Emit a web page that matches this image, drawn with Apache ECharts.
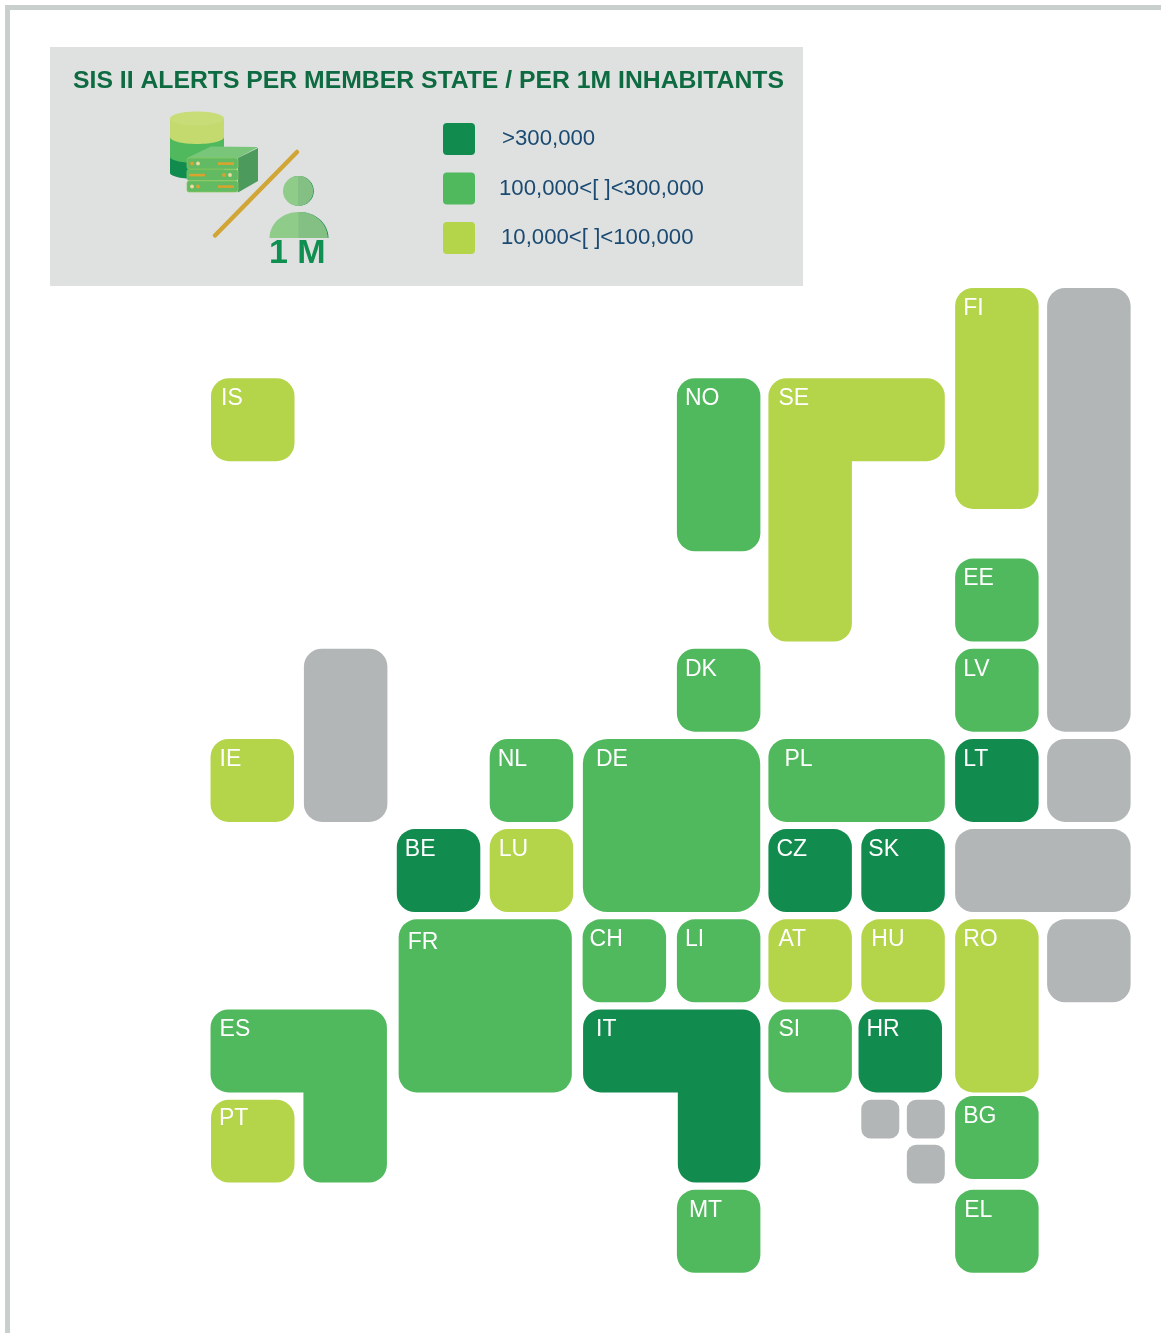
<!DOCTYPE html>
<html>
<head>
<meta charset="utf-8">
<style>html,body{margin:0;padding:0;background:#fff}#main{width:1161px;height:1333px}</style>
<script src="https://cdn.jsdelivr.net/npm/echarts@6/dist/echarts.min.js"></script>
</head>
<body>
<div id="main"></div>
<script>
// tile map: col / row are cells of the map grid, level 0 = no data
const tileNames = ['FI', '', 'IS', 'NO', 'SE', 'EE', 'DK', 'LV', '', 'IE', 'NL', 'DE', 'PL', 'LT', '',
  'BE', 'LU', 'CZ', 'SK', '', 'FR', 'CH', 'LI', 'AT', 'HU', 'RO', '', 'ES', 'IT', 'SI', 'HR',
  'PT', '', '', '', 'BG', 'MT', 'EL'];
const tileLevels = [1, 0, 1, 2, 1, 2, 2, 2, 0, 1, 2, 2, 2, 3, 0,
  3, 1, 3, 3, 0, 2, 2, 2, 1, 1, 1, 0, 2, 3, 2, 3,
  1, 0, 0, 0, 2, 2, 2];
const tileCols = [8.01, 9, 0, 5.015, 6, 8.01, 5.015, 8.01, 1, -0.005, 3, 4.003, 6, 8.01, 9,
  2, 3, 6, 7, 8.01, 2.02, 4, 5.015, 6, 7, 8.01, 9, -0.005, 4.005, 6, 6.97,
  0, 7, 7.49, 7.49, 8.01, 5.015, 8.01];
const tileRows = [0, 0, 1, 1, 1, 3, 4, 4, 4, 5, 5, 5, 5, 5, 5,
  6, 6, 6, 6, 6, 7, 7, 7, 7, 7, 7, 7, 8, 8, 8, 8,
  9, 9, 9, 9.5, 8.96, 10, 10];
const tileColSpans = [1, 1, 1, 1, 2, 1, 1, 1, 1, 1, 1, 2.01, 2, 1, 1,
  1, 1, 1, 1, 1.99, 1.965, 1, 1, 1, 1, 1, 1, 2, 2.01, 1, 1,
  1, 0.51, 0.51, 0.51, 1, 1, 1];
const tileRowSpans = [2.53, 5, 1, 2, 3, 1, 1, 1, 2, 1, 1, 2, 1, 1, 1,
  1, 1, 1, 1, 1, 2, 1, 1, 1, 1, 2, 1, 2, 2, 1, 1,
  1, 0.51, 0.51, 0.51, 1, 1, 1];
// L shaped countries: which corner of the box is cut out, and how many cells
const tileNotches = { SE: ['br', 1, 2], ES: ['bl', 1, 1], IT: ['bl', 1.02, 1] };

const levelLabels = ['no data', '10,000<[ ]<100,000', '100,000<[ ]<300,000', '>300,000'];
const levelColors = ['#b2b6b6', '#b4d44a', '#50b95d', '#118c4e'];

const titleText = 'SIS II ALERTS PER MEMBER STATE / PER 1M INHABITANTS';

// label nudges, px from the tile's left edge
const labelDx = { IS: 10, SE: 10, IE: 9, DE: 13, PL: 16, LU: 9, FR: 9, CH: 7, SK: 7, AT: 10, HU: 10, ES: 9, IT: 13, SI: 10, MT: 12, EL: 9 };
const labelDy = { FR: 23, PT: 19.5 };
const tileRadius = { DE: 25 };

const GAP_X = 9.4, GAP_Y = 7.2;
const font = '"Liberation Sans", Arial, sans-serif';

function tilePath(x0, y0, x1, y1, notch, cutX, cutY, radius) {
  let pts;
  if (notch === 'br') {
    pts = [[x0, y0, 1], [x1, y0, 1], [x1, cutY, 1], [cutX, cutY, 0], [cutX, y1, 1], [x0, y1, 1]];
  } else if (notch === 'bl') {
    pts = [[x0, y0, 1], [x1, y0, 1], [x1, y1, 1], [cutX, y1, 1], [cutX, cutY, 0], [x0, cutY, 1]];
  } else {
    pts = [[x0, y0, 1], [x1, y0, 1], [x1, y1, 1], [x0, y1, 1]];
  }
  const r = radius || Math.min(18, (x1 - x0) / 4, (y1 - y0) / 4);
  let d = '';
  pts.forEach(function (p, i) {
    const prev = pts[(i + pts.length - 1) % pts.length];
    const next = pts[(i + 1) % pts.length];
    const rr = p[2] ? r : 0;
    const ux = Math.sign(prev[0] - p[0]), uy = Math.sign(prev[1] - p[1]);
    const vx = Math.sign(next[0] - p[0]), vy = Math.sign(next[1] - p[1]);
    d += (i ? 'L' : 'M') + (p[0] + ux * rr) + ' ' + (p[1] + uy * rr);
    if (rr) d += 'A' + rr + ' ' + rr + ' 0 0 1 ' + (p[0] + vx * rr) + ' ' + (p[1] + vy * rr);
  });
  return d + 'Z';
}

function renderTile(params, api) {
  const col = api.value(0), row = api.value(1);
  const cs = api.value(2), rs = api.value(3);
  const name = api.value(4);
  const tl = api.coord([col, row]);
  const br = api.coord([col + cs, row + rs]);
  const x1 = br[0] - GAP_X, y1 = br[1] - GAP_Y;
  const notch = tileNotches[name];
  let cutX = 0, cutY = 0;
  if (notch) {
    // cut lines follow the cell edges, less the gap on the side that faces the notch
    if (notch[0] === 'br') {
      cutX = api.coord([col + cs - notch[1], row])[0] - GAP_X;
      cutY = api.coord([col, row + rs - notch[2]])[1] - GAP_Y;
    } else {
      cutX = api.coord([col + notch[1], row])[0];
      cutY = api.coord([col, row + rs - notch[2]])[1] - GAP_Y;
    }
  }
  const children = [{
    type: 'path',
    shape: { pathData: tilePath(tl[0], tl[1], x1, y1, notch && notch[0], cutX, cutY, tileRadius[name]) },
    style: { fill: api.visual('color') }
  }];
  if (name) {
    children.push({
      type: 'text',
      style: {
        text: name,
        x: tl[0] + (labelDx[name] || 8),
        y: tl[1] + (labelDy[name] || 20.5),
        fill: '#fff',
        font: '23px ' + font,
        align: 'left',
        verticalAlign: 'middle'
      }
    });
  }
  return { type: 'group', children: children };
}

const tileRowsData = tileNames.map(function (n, i) {
  return [tileCols[i], tileRows[i], tileColSpans[i], tileRowSpans[i], n, tileLevels[i]];
});

const series = levelLabels.map(function (label, lvl) {
  return {
    type: 'custom',
    name: label,
    coordinateSystem: 'cartesian2d',
    clip: false,
    silent: true,
    itemStyle: { color: levelColors[lvl] },
    encode: { x: [0, 2], y: [1, 3] },
    renderItem: renderTile,
    data: tileRowsData.filter(function (d) { return d[5] === lvl; })
  };
});

// small icon in the title panel
const domePts = [], domeEdgePts = [], domeRightPts = [];
for (let a = 0; a <= 180; a += 6) {
  const t = a * Math.PI / 180;
  const p = [298.5 + 29 * Math.cos(t), 238 - 26 * Math.sin(t)];
  domePts.push(p);
  if (a <= 90) {
    domeRightPts.push(p);
    domeEdgePts.push([p[0] + 1, p[1]]);
  }
}
domeRightPts.push([298.5, 238]);
domeEdgePts.push([298.5, 238]);

function band(topY, botY, bulge, color) {
  return [
    { type: 'ellipse', shape: { cx: 197, cy: botY, rx: 27, ry: bulge }, style: { fill: color } },
    { type: 'rect', shape: { x: 170, y: topY, width: 54, height: botY - topY }, style: { fill: color } }
  ];
}
function drawer(y, dots, lineX, dotFirst) {
  return [
    { type: 'rect', shape: { x: 187, y: y, width: 51, height: 11, r: 2 }, style: { fill: '#62bb62', stroke: '#8cc85c', lineWidth: 0.7 } },
    { type: 'rect', shape: { x: lineX, y: y + 4.3, width: 16, height: 2.6 }, style: { fill: '#d9a32e' } },
    { type: 'circle', shape: { cx: dots, cy: y + 5.5, r: 1.9 }, style: { fill: dotFirst ? '#d9a32e' : '#f1d9a0' } },
    { type: 'circle', shape: { cx: dots + 6, cy: y + 5.5, r: 1.9 }, style: { fill: dotFirst ? '#f1d9a0' : '#d9a32e' } }
  ];
}

const iconParts = [].concat(
  band(150, 173, 6, '#118c4e'),
  band(130, 157, 6, '#50b95d'),
  band(118, 137, 7, '#c4da6f'),
  [{ type: 'ellipse', shape: { cx: 197, cy: 118.5, rx: 27, ry: 7 }, style: { fill: '#c8dc78' } }],
  [
    { type: 'polygon', shape: { points: [[187, 158], [211, 146.5], [258, 147], [238, 158]] }, style: { fill: '#79c67a' } },
    { type: 'polygon', shape: { points: [[238, 158], [258, 148], [258, 181], [238, 192.5]] }, style: { fill: '#4c9a5c' } }
  ],
  drawer(158, 192, 218, true),
  drawer(169.5, 224, 189, true),
  drawer(181, 192, 218, false),
  [
    { type: 'line', shape: { x1: 215, y1: 235.5, x2: 297, y2: 152 }, style: { stroke: '#d1a636', lineWidth: 4.5, lineCap: 'round' } },
    { type: 'circle', shape: { cx: 298.8, cy: 191, r: 15 }, style: { fill: '#118c4e' } },
    { type: 'circle', shape: { cx: 298, cy: 191, r: 15 }, style: { fill: '#8fcc89' } },
    { type: 'sector', shape: { cx: 298, cy: 191, r: 15, r0: 0, startAngle: -Math.PI / 2, endAngle: Math.PI / 2 }, style: { fill: '#84bf83' } },
    { type: 'polygon', shape: { points: domeEdgePts }, style: { fill: '#118c4e' } },
    { type: 'polygon', shape: { points: domePts }, style: { fill: '#8fcc89' } },
    { type: 'polygon', shape: { points: domeRightPts }, style: { fill: '#84bf83' } },
    { type: 'text', style: { text: '1 M', x: 269, y: 254, fill: '#0f8f50', font: 'bold 34px ' + font, verticalAlign: 'middle' } }
  ]
);
iconParts.forEach(function (e) { e.z = 3; e.silent = true; });

const swatch = 'path://M4 0H28Q32 0 32 4V28Q32 32 28 32H4Q0 32 0 28V4Q0 0 4 0Z';

const chart = echarts.init(document.getElementById('main'), null, { renderer: 'canvas' });
chart.setOption({
  animation: false,
  backgroundColor: '#fff',
  title: {
    text: titleText,
    left: 73, top: 68.5, padding: 0,
    textStyle: { color: '#0e6b41', fontFamily: font, fontWeight: 'bold', fontSize: 24.75 }
  },
  legend: {
    orient: 'vertical',
    left: 443, top: 123, padding: 0,
    itemWidth: 32, itemHeight: 32, itemGap: 17.5,
    selectedMode: false,
    textStyle: { color: '#1a4a72', fontFamily: font, fontSize: 22.2 },
    data: [
      { name: levelLabels[3], icon: swatch, textStyle: { padding: [5, 0, 0, 22] } },
      { name: levelLabels[2], icon: swatch, textStyle: { padding: [5, 0, 0, 19] } },
      { name: levelLabels[1], icon: swatch, textStyle: { padding: [5, 0, 0, 21] } }
    ]
  },
  // x runs from -1 so the two tiles sitting a hair left of column 0 stay inside the axis
  grid: { left: 118.1, top: 288, width: 1021.9, height: 992 },
  xAxis: { type: 'value', min: -1, max: 10, show: false },
  yAxis: { type: 'value', min: 0, max: 11, inverse: true, show: false },
  series: series,
  graphic: [
    { type: 'rect', z: -1, silent: true, shape: { x: 5, y: 5, width: 1156, height: 5 }, style: { fill: '#c8cfcd' } },
    { type: 'rect', z: -1, silent: true, shape: { x: 5, y: 5, width: 5, height: 1328 }, style: { fill: '#c8cfcd' } },
    { type: 'rect', z: -1, silent: true, shape: { x: 50, y: 47, width: 753, height: 239 }, style: { fill: '#dfe1e0' } }
  ].concat(iconParts)
});
</script>
</body>
</html>
